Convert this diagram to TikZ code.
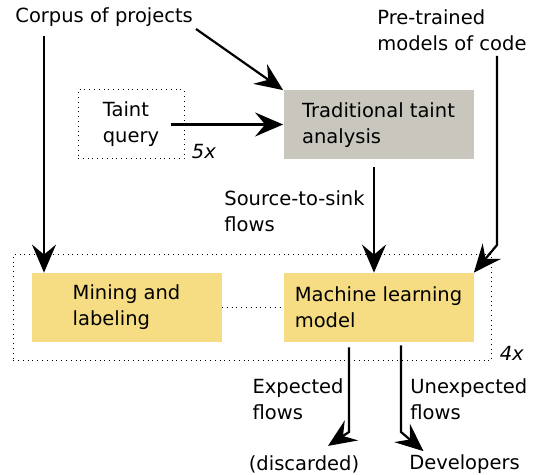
\documentclass[tikz,border=0pt]{standalone}
\usepackage{fontspec}
\setmainfont{DejaVu Sans}
\usetikzlibrary{arrows.meta}
\usetikzlibrary{fit}
\usetikzlibrary{positioning}
\definecolor{analysisgray}{HTML}{C9C6BE}
\definecolor{modelyellow}{HTML}{F6DD83}

\begin{document}
\begin{tikzpicture}[x=0.5pt, y=-0.5pt,
    txt/.style={inner sep=0pt, font=\fontsize{9.75}{13}\selectfont},
    block/.style={txt, align=left, minimum width=95pt, minimum height=34.5pt},
    frame/.style={draw, line width=0.5pt, dash pattern=on 0.5pt off 1.9pt},
    arr/.style={line width=1.1pt, -{Stealth[length=14pt, width=12pt, inset=5pt]}}]
    \useasboundingbox (0, 0) rectangle (536, 475);

    % Inputs
    \node[txt, anchor=west] (corpus) at (15, 17) {Corpus of projects};
    \node[txt, anchor=west, align=left] (pretrained) at (377, 30.5) {Pre-trained\\models of code};

    % Taint query (repeated)
    \node[txt, align=left] (query) at (131, 124.5) {Taint\\query};
    \node[frame, minimum width=53pt, minimum height=34.5pt] (queryframe) at (query) {};
    \node[txt, anchor=south west, xshift=3.5pt, font=\fontsize{9.75}{13}\selectfont\itshape] (fivex) at (queryframe.south east) {5x};

    % Traditional analysis
    \node[block, fill=analysisgray] (taint) at (378.5, 125) {Traditional taint\\analysis};

    % Learning loop (repeated)
    \node[block, fill=modelyellow] (mining) at (126.5, 307.5) {Mining and\\labeling};
    \node[block, fill=modelyellow] (ml) at (378.5, 307.5) {Machine learning\\model};
    \draw[frame] (mining.east) -- (ml.west);
    \node[frame, fit=(mining)(ml), inner sep=9pt] (loop) {};
    \node[txt, anchor=south west, xshift=3.5pt, font=\fontsize{9.75}{13}\selectfont\itshape] (fourx) at (loop.south east) {4x};

    % Outputs
    \node[txt, anchor=east, align=left] (flowlabel) at (365, 211.5) {Source-to-sink\\flows};
    \node[txt, anchor=east, align=left] (explabel) at (344, 399.5) {Expected\\flows};
    \node[txt, anchor=west, align=left] (unexplabel) at (410, 399.5) {Unexpected\\flows};
    \node[txt] (discarded) at (304, 464) {(discarded)};
    \node[txt] (developers) at (464.5, 464) {Developers};

    % Connectors
    \coordinate (corpusfoot) at (44, 36);
    \coordinate (corpustail) at (196, 29);
    \coordinate (flowtop) at (374, 167);
    \coordinate (modelfoot) at (497, 56);
    \coordinate (modelbend) at (497, 245);
    \coordinate (expbend) at (349, 432);
    \coordinate (unexpbend) at (401, 432);

    \draw[arr] (corpusfoot) -- (corpusfoot |- mining.north);
    \draw[arr] (corpustail) -- (taint.north west);
    \draw[arr] ([xshift=5.5pt]query.east) -- (query.east -| taint.west);
    \draw[arr] (flowtop) -- (flowtop |- ml.north);
    \draw[arr] (modelfoot) -- (modelbend) -- (ml.north east);
    \draw[arr, shorten <=2.5pt] (ml.south -| expbend) -- (expbend) -- ([xshift=12pt, yshift=4.5pt]discarded.north);
    \draw[arr, shorten <=1.5pt] (ml.south -| unexpbend) -- (unexpbend) -- ([xshift=-20.5pt, yshift=1.5pt]developers.north);
\end{tikzpicture}
\end{document}
